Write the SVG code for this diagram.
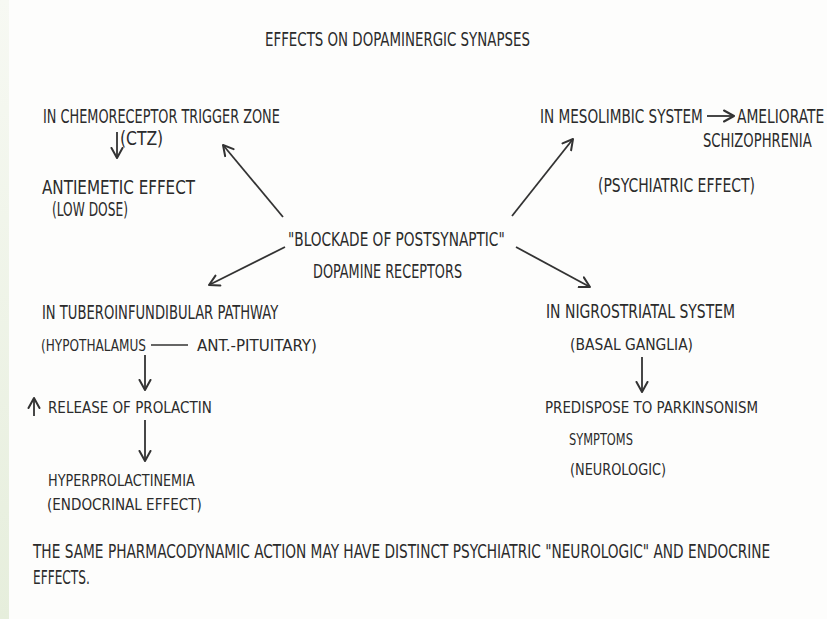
<svg xmlns="http://www.w3.org/2000/svg" width="827" height="619" viewBox="0 0 827 619">
<defs>
<linearGradient id="strip" x1="0" y1="0" x2="0" y2="1">
<stop offset="0" stop-color="#f7f9f3"/>
<stop offset="1" stop-color="#e6eedc"/>
</linearGradient>
<marker id="ah" markerUnits="userSpaceOnUse" markerWidth="16" markerHeight="16" refX="11" refY="6" orient="auto" viewBox="0 0 16 12">
<path d="M1,0.5 L11,6 L1,11.5" fill="none" stroke="#333" stroke-width="2" stroke-linecap="round" stroke-linejoin="round"/>
</marker>
<style>
text{font-family:"DejaVu Sans Condensed","DejaVu Sans","Liberation Sans",sans-serif;font-stretch:condensed;fill:#2b2b2b;font-size:20px;}
.sm{font-size:15.5px;}
.c{stroke:#333;stroke-width:1.8;fill:none;marker-end:url(#ah);}
.p{stroke:#333;stroke-width:1.6;fill:none;}
</style>
</defs>
<rect x="0" y="0" width="827" height="619" fill="#fdfdfc"/>
<rect x="0" y="0" width="9" height="619" fill="url(#strip)"/>

<g id="title"><text transform="matrix(0.72 0 0 1 265 46)" textLength="368" lengthAdjust="spacingAndGlyphs">EFFECTS ON DOPAMINERGIC SYNAPSES</text></g>

<g id="ctz">
<text transform="matrix(0.72 0 0 1 43 123)" textLength="329" lengthAdjust="spacingAndGlyphs">IN CHEMORECEPTOR TRIGGER ZONE</text>
<text transform="matrix(0.72 0 0 1 120 145)" textLength="60" lengthAdjust="spacingAndGlyphs">(CTZ)</text>
</g>
<g id="antiemetic">
<text transform="matrix(0.72 0 0 1 42 194)" textLength="212.5" lengthAdjust="spacingAndGlyphs">ANTIEMETIC EFFECT</text>
<text transform="matrix(0.72 0 0 1 52 216)" textLength="105.5" lengthAdjust="spacingAndGlyphs">(LOW DOSE)</text>
</g>

<g id="blockade">
<text transform="matrix(0.72 0 0 1 288 246)" textLength="301" lengthAdjust="spacingAndGlyphs">"BLOCKADE OF POSTSYNAPTIC"</text>
<text transform="matrix(0.72 0 0 1 313 278)" textLength="207" lengthAdjust="spacingAndGlyphs">DOPAMINE RECEPTORS</text>
</g>

<g id="mesolimbic">
<text transform="matrix(0.72 0 0 1 540 123)" textLength="226" lengthAdjust="spacingAndGlyphs">IN MESOLIMBIC SYSTEM</text>
</g>
<g id="ameliorate">
<text transform="matrix(0.72 0 0 1 737 123)" textLength="121" lengthAdjust="spacingAndGlyphs">AMELIORATE</text>
<text transform="matrix(0.72 0 0 1 703 147)" textLength="151" lengthAdjust="spacingAndGlyphs">SCHIZOPHRENIA</text>
<text transform="matrix(0.72 0 0 1 598 192)" textLength="218" lengthAdjust="spacingAndGlyphs">(PSYCHIATRIC EFFECT)</text>
</g>

<g id="tubero">
<text transform="matrix(0.72 0 0 1 42 319)" textLength="328" lengthAdjust="spacingAndGlyphs">IN TUBEROINFUNDIBULAR PATHWAY</text>
<text class="sm" transform="matrix(0.9 0 0 1 41 351)" textLength="116.7" lengthAdjust="spacingAndGlyphs">(HYPOTHALAMUS</text>
<line class="p" x1="151" y1="345" x2="188" y2="345"/>
<text class="sm" transform="matrix(0.9 0 0 1 197 351)" textLength="133.3" lengthAdjust="spacingAndGlyphs">ANT.-PITUITARY)</text>
</g>
<g id="prolactin">
<text class="sm" transform="matrix(0.9 0 0 1 48 413)" textLength="182" lengthAdjust="spacingAndGlyphs">RELEASE OF PROLACTIN</text>
</g>
<g id="hyperprolactinemia">
<text class="sm" transform="matrix(0.9 0 0 1 48 486)" textLength="163" lengthAdjust="spacingAndGlyphs">HYPERPROLACTINEMIA</text>
<text class="sm" transform="matrix(0.9 0 0 1 47 510)" textLength="172" lengthAdjust="spacingAndGlyphs">(ENDOCRINAL EFFECT)</text>
</g>

<g id="nigro">
<text transform="matrix(0.72 0 0 1 546 318)" textLength="262.5" lengthAdjust="spacingAndGlyphs">IN NIGROSTRIATAL SYSTEM</text>
<text class="sm" transform="matrix(0.9 0 0 1 570 350)" textLength="136.7" lengthAdjust="spacingAndGlyphs">(BASAL GANGLIA)</text>
</g>
<g id="parkinsonism">
<text class="sm" transform="matrix(0.9 0 0 1 545 413)" textLength="236.7" lengthAdjust="spacingAndGlyphs">PREDISPOSE TO PARKINSONISM</text>
<text class="sm" transform="matrix(0.9 0 0 1 569 445)" textLength="71" lengthAdjust="spacingAndGlyphs">SYMPTOMS</text>
<text class="sm" transform="matrix(0.9 0 0 1 570 475)" textLength="106.7" lengthAdjust="spacingAndGlyphs">(NEUROLOGIC)</text>
</g>

<g id="footer">
<text transform="matrix(0.72 0 0 1 33 558)" textLength="1024" lengthAdjust="spacingAndGlyphs">THE SAME PHARMACODYNAMIC ACTION MAY HAVE DISTINCT PSYCHIATRIC "NEUROLOGIC" AND ENDOCRINE</text>
<text transform="matrix(0.72 0 0 1 33 584)" textLength="79" lengthAdjust="spacingAndGlyphs">EFFECTS.</text>
</g>

<g id="connectors">
<line class="c" x1="117" y1="132" x2="117" y2="158"/>
<line class="c" x1="283" y1="217" x2="223" y2="145"/>
<line class="c" x1="512" y1="216" x2="573" y2="139"/>
<line class="c" x1="285" y1="247" x2="209" y2="285"/>
<line class="c" x1="516" y1="247" x2="590" y2="287"/>
<line class="c" x1="707" y1="116" x2="734" y2="116"/>
<line class="c" x1="145" y1="355" x2="145" y2="390"/>
<line class="c" x1="34" y1="416" x2="34" y2="398"/>
<line class="c" x1="145" y1="420" x2="145" y2="461"/>
<line class="c" x1="642" y1="357" x2="642" y2="392"/>
</g>
</svg>
